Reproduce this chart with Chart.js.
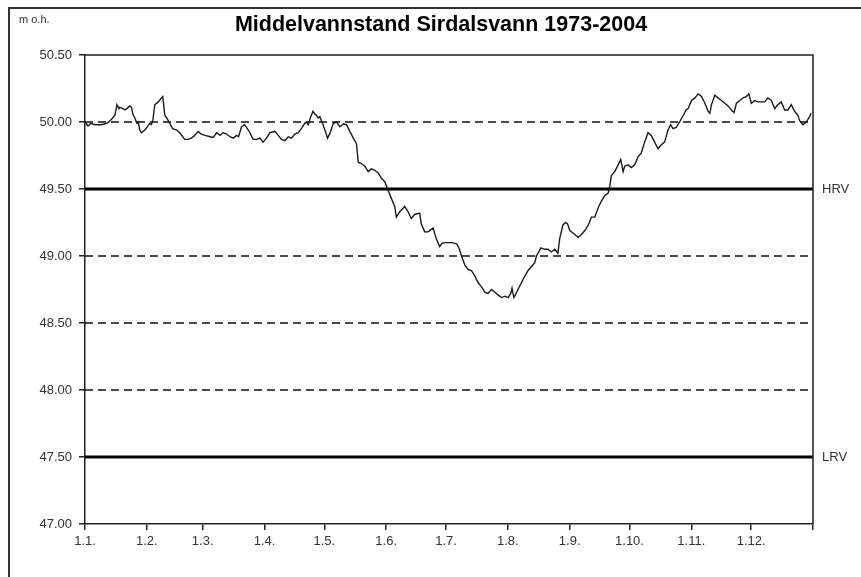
<!DOCTYPE html>
<html><head><meta charset="utf-8">
<script src="https://cdn.jsdelivr.net/npm/chart.js@4.4.1/dist/chart.umd.min.js"></script>
<style>html,body{margin:0;padding:0;background:#fff;overflow:hidden}canvas{display:block}</style>
</head><body>
<canvas id="c" width="861" height="577"></canvas>
<script>
// Day of year (0 = 1 Jan)
const days = [0,1.5,3,5,8,11,12.5,13.3,15,16,17,17.5,19,20,21,22.5,23.3,24,25,26,26.7,27.5,28.3,30,31,32.5,33.3,34,35,36.7,38.3,39,40,41,42.5,44,46,47.5,50,51.7,53.3,55,56.7,58.3,
60.2,62.7,64.3,66,67.7,69.3,71,72.7,74.3,76,77,78.5,80,81,82.7,84.3,86,87.7,89.3,91,92.7,95.2,96.9,98.5,100.2,101.9,103.5,105.2,106.9,108.5,110.2,111,111.9,113.2,114.3,115.2,116,116.9,117.7,119.4,
120.5,121.6,122.8,124.5,126.1,127.8,129.5,131.1,132.8,134.5,136.1,137,138.6,140.3,142,143.6,145.3,147,148.6,150.3,152,153.6,155.3,156.1,157.8,160.3,162,163.6,165.3,167.8,168.6,170.3,172,174.5,176.1,177.8,179,
180.5,183.8,186.3,187.5,188.8,190.5,192.1,193.8,195.5,197.1,198.8,200.5,202.1,203.8,205.5,207.1,208.8,210.5,212.1,213.5,214.1,215,215.8,217.1,218.8,220.5,222.1,223.8,225.5,226.3,227.5,228.5,230.5,232.1,233.8,235.5,237.1,238,239.6,
240.8,241.9,243.1,244.8,247.3,248.9,250.6,252.3,253.9,255.6,257.3,258.9,260.6,262.3,263.1,263.9,265.6,267.3,268.6,269.8,270.6,272.3,273.9,275.6,277.3,278.9,280.6,282.3,283.9,285.6,287.3,288.9,290.6,292.3,293.6,294.8,296.4,298.1,299.8,
301.4,302.4,304.1,305.8,307.4,309.1,310.8,312.4,313.3,314.1,315.8,317.4,319.1,320.8,322.4,324.1,325.4,326.6,328.3,329.9,331.6,332.8,334.1,335.8,337.4,339.1,340.8,342.4,344.1,345.8,347.4,349.1,350.8,352.4,354.1,355.8,357.4,358.3,360,361.6,363.3,364];
// Mean water level (m o.h.)
const levels = [50.00,49.97,49.99,49.98,49.98,49.99,50.01,50.02,50.05,50.13,50.10,50.11,50.10,50.09,50.10,50.12,50.11,50.06,50.03,49.99,50.00,49.94,49.92,49.94,49.96,49.99,49.98,50.01,50.13,50.15,50.18,50.19,50.05,50.03,49.99,49.95,49.94,49.92,49.87,49.87,49.88,49.90,49.93,49.91,
49.90,49.89,49.885,49.92,49.90,49.92,49.91,49.89,49.88,49.90,49.89,49.965,49.98,49.96,49.92,49.87,49.87,49.88,49.85,49.88,49.92,49.93,49.90,49.87,49.86,49.89,49.88,49.91,49.92,49.95,49.99,50.00,49.98,50.04,50.08,50.06,50.05,50.03,50.04,49.98,
49.93,49.88,49.915,49.99,50.00,49.965,49.985,49.98,49.93,49.88,49.84,49.70,49.69,49.67,49.63,49.65,49.64,49.62,49.58,49.555,49.49,49.43,49.37,49.29,49.33,49.37,49.33,49.28,49.31,49.32,49.24,49.18,49.18,49.21,49.13,49.07,49.095,
49.10,49.10,49.09,49.06,49.00,48.93,48.90,48.89,48.85,48.80,48.77,48.73,48.72,48.75,48.73,48.71,48.69,48.70,48.69,48.72,48.76,48.69,48.71,48.75,48.80,48.85,48.89,48.92,48.95,49.00,49.03,49.06,49.05,49.05,49.03,49.05,49.02,49.13,49.23,
49.25,49.24,49.19,49.17,49.14,49.16,49.19,49.23,49.29,49.29,49.36,49.41,49.45,49.47,49.52,49.60,49.63,49.68,49.72,49.63,49.67,49.68,49.66,49.68,49.74,49.77,49.85,49.92,49.90,49.85,49.80,49.83,49.85,49.94,49.98,49.95,49.96,50.00,50.045,
50.09,50.10,50.16,50.18,50.21,50.19,50.14,50.08,50.065,50.13,50.20,50.18,50.16,50.14,50.12,50.09,50.07,50.14,50.16,50.18,50.19,50.21,50.14,50.16,50.15,50.15,50.15,50.18,50.16,50.10,50.13,50.15,50.09,50.09,50.13,50.08,50.05,50.01,49.98,50.00,50.04,50.065];

const monthStarts = [0,31,59,90,120,151,181,212,243,273,304,334,365];
const monthLabels = ['1.1.','1.2.','1.3.','1.4.','1.5.','1.6.','1.7.','1.8.','1.9.','1.10.','1.11.','1.12.',''];
const dashedLevels = [50.0,49.0,48.5,48.0];
const regulationLevels = [49.5,47.5];
const regulationLabels = ['HRV','LRV'];
const titleText = 'Middelvannstand Sirdalsvann 1973-2004';
const unitText = 'm o.h.';
const yMin = 47, yMax = 50.5, yStep = 0.5;

const FONT = '"Liberation Sans", Arial, sans-serif';

const datasets = [{
  label:'Middelvannstand',
  data: days.map((d,i)=>({x:d,y:levels[i]})),
  borderColor:'#1a1a1a', borderWidth:1.4, pointRadius:0, tension:0, order:0
}];
dashedLevels.forEach(v=>datasets.push({
  data:[{x:0,y:v},{x:365,y:v}], borderColor:'#111', borderWidth:1.4, borderDash:[8,5], pointRadius:0, order:2
}));
regulationLevels.forEach(v=>datasets.push({
  data:[{x:0,y:v},{x:365,y:v}], borderColor:'#000', borderWidth:3, pointRadius:0, order:1
}));

const deco = {
  id:'deco',
  beforeDraw(chart){
    const ctx=chart.ctx; ctx.save();
    ctx.fillStyle='#fff'; ctx.fillRect(0,0,chart.width,chart.height);
    ctx.strokeStyle='#333'; ctx.lineWidth=2;
    ctx.beginPath(); ctx.moveTo(9,chart.height); ctx.lineTo(9,8); ctx.lineTo(chart.width,8); ctx.stroke();
    ctx.restore();
  },
  afterDraw(chart){
    const {ctx, chartArea:a, scales:{y}} = chart; ctx.save();
    ctx.strokeStyle='#222'; ctx.lineWidth=1.5;
    ctx.beginPath(); ctx.moveTo(a.left,a.top); ctx.lineTo(a.right,a.top); ctx.lineTo(a.right,a.bottom); ctx.stroke();
    ctx.fillStyle='#000'; ctx.textBaseline='middle'; ctx.textAlign='center';
    ctx.font='bold 21.5px '+FONT;
    ctx.fillText(titleText, 441, 25);
    ctx.fillStyle='#333'; ctx.textAlign='left';
    ctx.font='13px '+FONT;
    regulationLevels.forEach((v,i)=>ctx.fillText(regulationLabels[i], a.right+9, y.getPixelForValue(v)));
    ctx.font='11px '+FONT;
    ctx.fillText(unitText, 19, 20);
    ctx.restore();
  }
};

new Chart(document.getElementById('c'), {
  type:'line',
  data:{datasets},
  plugins:[deco],
  options:{
    responsive:false, animation:false, devicePixelRatio:1,
    layout:{padding:{left:0,right:48,top:55,bottom:0}},
    plugins:{
      legend:{display:false}, tooltip:{enabled:false}, title:{display:false}
    },
    scales:{
      x:{type:'linear', min:0, max:365,
        afterBuildTicks:s=>{ s.ticks = monthStarts.map(v=>({value:v})); },
        afterFit:s=>{ s.height = 53; },
        ticks:{callback:(v,i)=>monthLabels[i], autoSkip:false, maxRotation:0, color:'#333', font:{family:FONT,size:13}, padding:4},
        grid:{drawOnChartArea:false, drawTicks:true, tickLength:6, color:'#222', lineWidth:1.5},
        border:{color:'#222', width:1.5}
      },
      y:{min:yMin, max:yMax,
        afterFit:s=>{ s.width = 85; },
        ticks:{stepSize:yStep, callback:v=>Number(v).toFixed(2), color:'#333', font:{family:FONT,size:13}, padding:7},
        grid:{drawOnChartArea:false, drawTicks:true, tickLength:6, color:'#222', lineWidth:1.5},
        border:{color:'#222', width:1.5}
      }
    }
  }
});
</script>
</body></html>
